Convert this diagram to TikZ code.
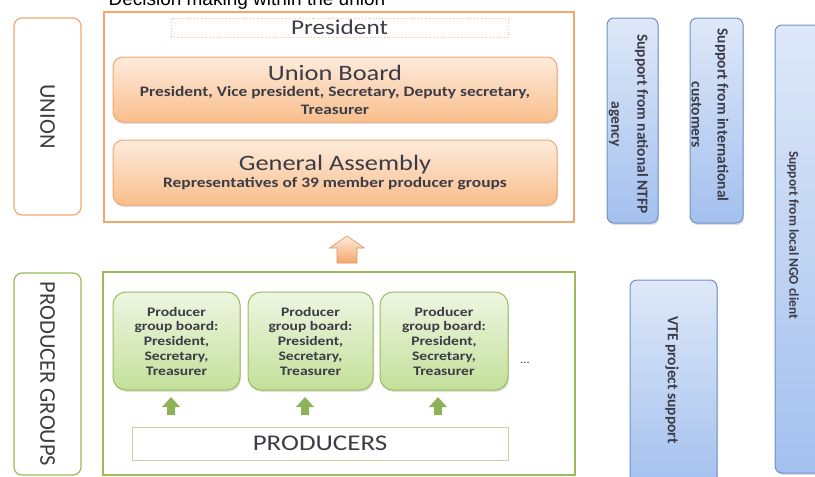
\documentclass[tikz,border=0pt]{standalone}
\usepackage{fontspec}
\setmainfont{Carlito}
\newfontfamily\widecal[FakeStretch=1.2]{Carlito}
\newfontfamily\titlefont{Liberation Sans}
\usetikzlibrary{
  positioning,
  shadows
}
\definecolor{unLine}{HTML}{F4A66E}
\definecolor{unTop}{HTML}{FDEBDC}
\definecolor{unBot}{HTML}{F9BE8C}
\definecolor{grLine}{HTML}{9BBB59}
\definecolor{grTop}{HTML}{EEF6E2}
\definecolor{grBot}{HTML}{C3E09A}
\definecolor{grArrow}{HTML}{8EB25A}
\definecolor{blLine}{HTML}{6F91C8}
\definecolor{blTop}{HTML}{DEE8F8}
\definecolor{blBot}{HTML}{A3C0EE}
\definecolor{txDark}{HTML}{3C3C46}
\newcommand\bigline{\widecal\fontsize{22}{22}\selectfont}
\newcommand\smallline{\widecal\bfseries\fontsize{14.5}{17}\selectfont}
\tikzset{
  softshadow/.style={drop shadow={opacity=0.25, shadow xshift=1pt, shadow yshift=-2pt}},
  sidebox/.style={
    draw, rounded corners=8pt, line width=1.2pt, fill=white, inner sep=0pt,
    rotate=-90, text=txDark, font=\fontsize{22.5}{24}\selectfont
  },
  frame/.style={draw, line width=1.3pt, inner sep=0pt},
  uboard/.style={
    draw=unLine, line width=1pt, rounded corners=10pt, top color=unTop, bottom color=unBot,
    softshadow, align=center, inner sep=0pt, text=txDark,
    minimum width=444pt, minimum height=65pt
  },
  pgboard/.style={
    draw=grLine, line width=1pt, rounded corners=13pt, top color=grTop, bottom color=grBot,
    softshadow, align=center, inner sep=0pt, text=txDark, minimum height=98pt,
    font=\widecal\bfseries\fontsize{13}{14.75}\selectfont
  },
  support/.style={
    draw=blLine, line width=1pt, rounded corners=7pt, top color=blTop, bottom color=blBot,
    softshadow, inner sep=0pt
  },
  supporttext/.style={rotate=-90, align=center, text=txDark, font=\bfseries\fontsize{15.5}{26}\selectfont},
  orangeup/.style={draw=unLine!90!black, line width=0.6pt, top color=unTop, bottom color=unLine},
  greenup/.style={fill=grArrow}
}
\begin{document}
\begin{tikzpicture}[x=1pt,y=-1pt]
  \useasboundingbox (0,0) rectangle (815,477);
  \clip (0,0) rectangle (815,477);

  \node[anchor=base west, font=\titlefont\fontsize{19}{22}\selectfont] (title) at (105,5) {Decision making within the union};

  % left labels
  \node[sidebox, draw=unLine, minimum width=197pt, minimum height=67pt] (union) at (47.5,116.5) {UNION};
  \node[sidebox, draw=grLine, minimum width=202pt, minimum height=67pt] (pgroups) at (47.5,374) {PRODUCER GROUPS};

  % union
  \node[frame, draw=unLine, minimum width=470pt, minimum height=210pt] (uframe) at (339,117) {};
  \node[draw=unLine!70, dotted, line width=0.8pt, minimum width=337pt, minimum height=19pt, inner sep=0pt,
        text=txDark, font=\widecal\fontsize{21}{22}\selectfont] (president) at (339.5,27.5) {President};
  \node[uboard] (board) at (335,89.5)
    {\bigline Union Board\\[4pt]
     \smallline President, Vice president, Secretary, Deputy secretary,\\[6pt] \smallline Treasurer};
  \node[uboard] (assembly) at (335,172.5)
    {\bigline General Assembly\\[3pt]
     \smallline Representatives of 39 member producer groups};
  \coordinate (upward) at (347,236);
  \draw[orangeup] (upward) -- ++(17.5,12) -- ++(-7.5,0) -- ++(0,15) -- ++(-20,0) -- ++(0,-15) -- ++(-7.5,0) -- cycle;

  % producer groups
  \node[frame, draw=grLine, minimum width=472pt, minimum height=203pt] (pgframe) at (339,373.5) {};
  \node[pgboard, minimum width=127pt] (pgb1) at (176.5,341) {Producer\\group board:\\President,\\Secretary,\\Treasurer};
  \node[pgboard, minimum width=125pt] (pgb2) at (310.5,341) {Producer\\group board:\\President,\\Secretary,\\Treasurer};
  \node[pgboard, minimum width=128pt] (pgb3) at (444,341) {Producer\\group board:\\President,\\Secretary,\\Treasurer};
  \node[text=txDark, font=\fontsize{12}{12}\selectfont] (more) at (525,363) {...};
  \foreach \x/\n in {171/1, 305/2, 438/3} {
    \coordinate (up\n) at (\x,397);
    \fill[greenup] (up\n) -- ++(9,10) -- ++(-5,0) -- ++(0,8) -- ++(-8,0) -- ++(0,-8) -- ++(-5,0) -- cycle;
  }
  \node[draw=grLine!60, line width=1pt, fill=white, minimum width=376pt, minimum height=33pt, inner sep=0pt,
        text=txDark, font=\widecal\fontsize{22.5}{22}\selectfont] (producers) at (320,443.5) {PRODUCERS};

  % support
  \node[support, minimum width=51pt, minimum height=205pt] (ntfp) at (632.5,120.5) {};
  \node[supporttext] (ntfp-t) at (628.5,124) {Support from national NTFP\\agency};
  \node[support, minimum width=53pt, minimum height=205pt] (intl) at (716.5,120.5) {};
  \node[supporttext] (intl-t) at (710,115) {Support from international\\customers};
  \node[support, minimum width=87pt, minimum height=210pt] (vte) at (673.5,385) {};
  \node[supporttext] (vte-t) at (672,380) {VTE project support};
  \node[support, minimum width=60pt, minimum height=448pt] (ngo) at (805,249) {};
  \node[supporttext, font=\bfseries\fontsize{13.5}{26}\selectfont] (ngo-t) at (793,235) {Support from local NGO client};
\end{tikzpicture}
\end{document}
